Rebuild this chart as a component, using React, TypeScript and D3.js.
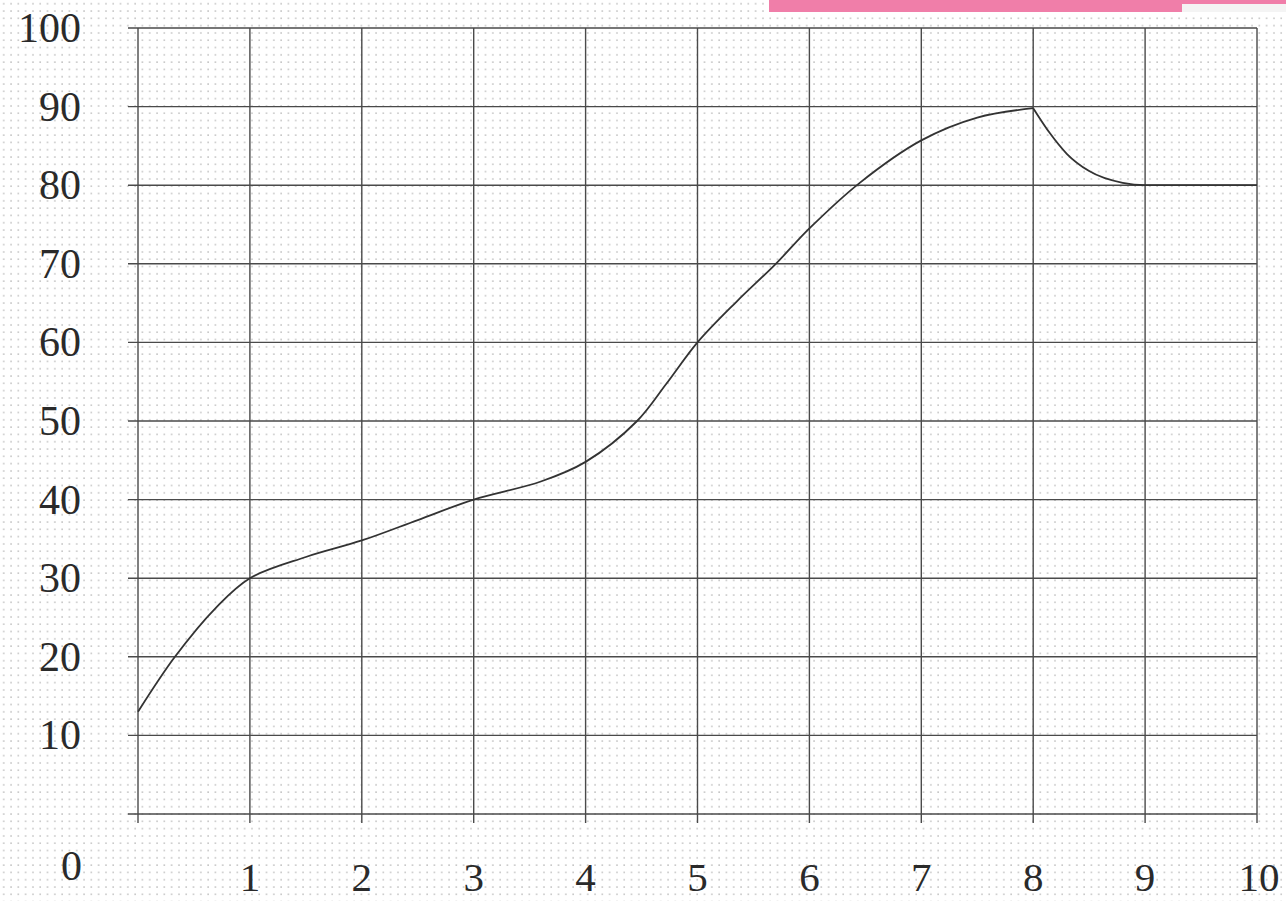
import React from "react";
import * as d3 from "d3";

const xTicks = [1, 2, 3, 4, 5, 6, 7, 8, 9, 10];
const yTicks = [0, 10, 20, 30, 40, 50, 60, 70, 80, 90, 100];
const xGrid = [0, 1, 2, 3, 4, 5, 6, 7, 8, 9, 10];
// rising part (up to the peak at x = 8)
const riseX = [0, 0.33, 0.7, 1, 1.5, 2, 2.5, 3, 3.6, 4, 4.46, 4.72, 5, 5.35, 5.7, 6, 6.45, 7, 7.5, 8];
const riseY = [13, 20, 26.3, 30, 32.7, 34.8, 37.4, 40, 42.3, 44.8, 50, 54.7, 60, 65.2, 70, 74.5, 80.3, 85.7, 88.6, 89.8];
// falling part (after the peak)
const fallX = [8, 8.15, 8.3, 8.5, 8.8, 9, 10];
const fallY = [89.8, 86.6, 84.0, 81.8, 80.3, 80, 80];

export default function App() {
  const W = 1286, H = 901;
  const x = d3.scaleLinear().domain([0, 10]).range([138, 1257]);
  const y = d3.scaleLinear().domain([0, 100]).range([814, 28]);
  const rise: [number, number][] = riseX.map((v, i) => [v, riseY[i]]);
  const fall: [number, number][] = fallX.map((v, i) => [v, fallY[i]]);
  const lineRise = d3.line<[number, number]>().x(d => x(d[0])).y(d => y(d[1])).curve(d3.curveCatmullRom.alpha(0.5));
  const lineFall = d3.line<[number, number]>().x(d => x(d[0])).y(d => y(d[1])).curve(d3.curveMonotoneX);
  const font = "'Liberation Serif', 'Times New Roman', serif";
  const gridColor = "#4a4a4a";
  return (
    <svg width={W} height={H} style={{ position: "absolute", left: 0, top: 0 }}>
      <defs>
        <pattern id="dots" width={7.3} height={7.3} patternUnits="userSpaceOnUse">
          <rect x={3} y={3} width={1.5} height={1.5} fill="#bfbfbf" />
        </pattern>
      </defs>
      <rect width={W} height={H} fill="#ffffff" />
      <rect width={W} height={H} fill="url(#dots)" />
      <rect x={769} y={0} width={W - 769} height={4} fill="#F07EA9" />
      <rect x={769} y={0} width={1182 - 769} height={12} fill="#F07EA9" />
      <rect x={1182} y={4} width={W - 1182} height={8} fill="#f4f4f4" />
      {yTicks.map(t => (
        <line key={"h" + t} x1={128} x2={x(10)} y1={y(t)} y2={y(t)} stroke={gridColor} strokeWidth={1.4} />
      ))}
      {xGrid.map(t => (
        <line key={"v" + t} x1={x(t)} x2={x(t)} y1={y(100)} y2={y(0) + 9} stroke={gridColor} strokeWidth={1.4} />
      ))}
      <path d={lineRise(rise) || ""} fill="none" stroke="#333" strokeWidth={1.8} />
      <path d={lineFall(fall) || ""} fill="none" stroke="#333" strokeWidth={1.8} />
      {yTicks.filter(t => t > 0).map(t => (
        <text key={"yl" + t} x={81} y={y(t)} textAnchor="end" dominantBaseline="central" fontFamily={font} fontSize={42} fill="#2a2a2a">{t}</text>
      ))}
      <text x={82} y={866} textAnchor="end" dominantBaseline="central" fontFamily={font} fontSize={42} fill="#2a2a2a">0</text>
      {xTicks.map(t => (
        <text key={"xl" + t} x={x(t) + (t === 10 ? 2 : 0)} y={877} textAnchor="middle" dominantBaseline="central" fontFamily={font} fontSize={41} fill="#2a2a2a">{t}</text>
      ))}
    </svg>
  );
}
